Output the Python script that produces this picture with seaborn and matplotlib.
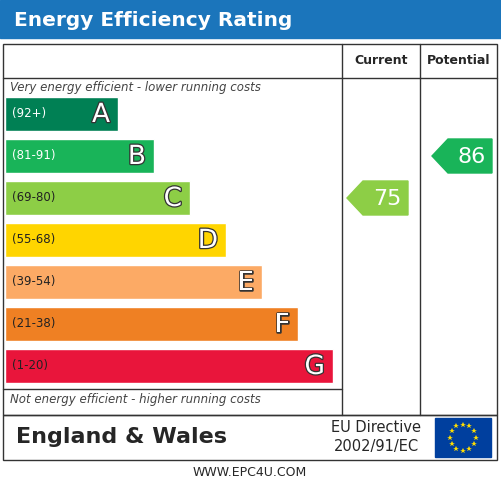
import matplotlib
matplotlib.use("Agg")
import matplotlib.pyplot as plt
import matplotlib.patheffects as pe
import seaborn as sns
from matplotlib.patches import Rectangle, Polygon
import numpy as np

# --- data ---
bands = ["A", "B", "C", "D", "E", "F", "G"]
ranges = ["(92+)", "(81-91)", "(69-80)", "(55-68)", "(39-54)", "(21-38)", "(1-20)"]
band_ends = [118, 154, 190, 226, 262, 298, 333]
colors = ["#008054", "#19b459", "#8dce46", "#ffd500", "#fcaa65", "#ef8023", "#e9153b"]
current_value = 75
potential_value = 86
current_band = 2
potential_band = 1

sns.set_theme(style="white")
plt.rcParams["font.family"] = ["DejaVu Sans"]

fig = plt.figure(figsize=(5.01, 4.82), dpi=100)
ax = fig.add_axes([0, 0, 1, 1])
ax.set_xlim(0, 501)
ax.set_ylim(482, 0)
ax.axis("off")

# title bar
ax.add_patch(Rectangle((0, 0), 501, 38, color="#1b75bb"))
ax.text(14, 20, "Energy Efficiency Rating", color="white", fontsize=14.5,
        fontweight="bold", va="center", ha="left")

# frame and grid
lw = 1.0
ax.add_patch(Rectangle((3, 44), 494, 371, fill=False, ec="#333", lw=lw))
ax.add_patch(Rectangle((3, 415), 494, 45, fill=False, ec="#333", lw=lw))
ax.plot([342, 342], [44, 415], color="#333", lw=lw)
ax.plot([420, 420], [44, 415], color="#333", lw=lw)
ax.plot([3, 497], [78, 78], color="#333", lw=lw)
ax.plot([3, 342], [389, 389], color="#333", lw=lw)
ax.text(381, 61, "Current", fontsize=9, fontweight="bold", ha="center", va="center")
ax.text(459, 61, "Potential", fontsize=9, fontweight="bold", ha="center", va="center")

ax.text(10, 88, "Very energy efficient - lower running costs", fontsize=8.5,
        style="italic", color="#444", va="center")
ax.text(10, 399, "Not energy efficient - higher running costs", fontsize=8.5,
        style="italic", color="#444", va="center")

ys = 114 + 42 * np.arange(len(bands))
ax.barh(ys, np.array(band_ends) - 5, left=5, height=34, color=colors)
outline = [pe.withStroke(linewidth=1.8, foreground="#333")]
for y, end, b, r in zip(ys, band_ends, bands, ranges):
    tc = "white" if b in ("A", "B") else "#222"
    ax.text(12, y, r, fontsize=8.5, color=tc, va="center", ha="left")
    ax.text(end - 8, y + 1, b, fontsize=19, color="white", va="center", ha="right",
            path_effects=outline)

def arrow(x0, x1, y, col, val):
    pts = [(x0, y), (x0 + 16, y - 17), (x1, y - 17), (x1, y + 17), (x0 + 16, y + 17)]
    ax.add_patch(Polygon(pts, closed=True, color=col))
    ax.text((x0 + 16 + x1) / 2 + 2, y + 1, str(val), fontsize=16, color="white",
            ha="center", va="center")

arrow(347, 408, ys[current_band], colors[current_band], current_value)
arrow(432, 492, ys[potential_band], colors[potential_band], potential_value)

# footer
ax.text(16, 437, "England & Wales", fontsize=16, fontweight="bold", va="center")
ax.text(376, 427, "EU Directive", fontsize=10.5, ha="center", va="center")
ax.text(376, 447, "2002/91/EC", fontsize=10.5, ha="center", va="center")
ax.add_patch(Rectangle((435, 418), 56, 39, color="#003f9e"))
for a in np.linspace(0, 2 * np.pi, 12, endpoint=False):
    ax.plot(463 + 13 * np.cos(a), 437.5 + 13 * np.sin(a), marker="*", color="#ffdd00",
            ms=4, mew=0)

ax.text(250, 472, "WWW.EPC4U.COM", fontsize=9, ha="center", va="center")

fig.savefig("out.png", dpi=100)
